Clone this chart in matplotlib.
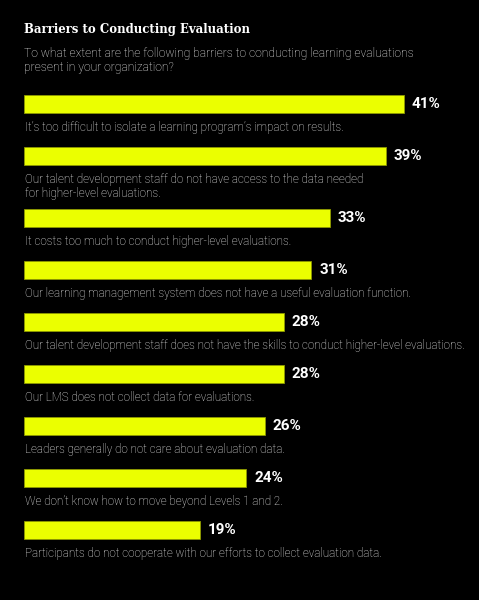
import matplotlib
matplotlib.use("Agg")
import matplotlib.pyplot as plt

# Daten
titel = "Barriers to Conducting Evaluation"
untertitel = ("To what extent are the following barriers to conducting learning evaluations\n"
              "present in your organization?")
barrieren = [
    "It\u2019s too difficult to isolate a learning program\u2019s impact on results.",
    "Our talent development staff do not have access to the data needed\nfor higher-level evaluations.",
    "It costs too much to conduct higher-level evaluations.",
    "Our learning management system does not have a useful evaluation function.",
    "Our talent development staff does not have the skills to conduct higher-level evaluations.",
    "Our LMS does not collect data for evaluations.",
    "Leaders generally do not care about evaluation data.",
    "We don\u2019t know how to move beyond Levels 1 and 2.",
    "Participants do not cooperate with our efforts to collect evaluation data.",
]
prozent = [41, 39, 33, 31, 28, 28, 26, 24, 19]

GELB = "#ebff00"
BG = "black"

fig = plt.figure(figsize=(4.79, 6), dpi=100, facecolor=BG)
# x: 0 % liegt bei 24 px, ca. 9.27 px pro Prozentpunkt; y in Pixeln von oben
ax = fig.add_axes([24 / 479, 0, 45 * 9.27 / 479, 1])
ax.set_facecolor(BG)
ax.set_xlim(0, 45)
ax.set_ylim(600, 0)
ax.axis("off")

# y-Positionen: 52 px Abstand, 10 px extra nach jeder zweizeiligen Beschriftung
ypos = []
y = 104
for lab in barrieren:
    ypos.append(y)
    y += 52 + 10 * lab.count("\n")

ax.barh(ypos, prozent, height=18, left=0, color=GELB, edgecolor="#8f9a00", linewidth=0.6)

for yy, p, lab in zip(ypos, prozent, barrieren):
    ax.text(p + 0.85, yy, f"{p}%", color="white", fontsize=11, fontweight="bold",
            family="Roboto", va="center", ha="left")
    ax.text(0.1, yy + 17, lab, color="#f5f5f5", fontsize=8.4, fontweight="light",
            family="Roboto", va="top", ha="left", linespacing=1.15)

ax.text(0, 29, titel, color="white", fontsize=9.4, fontweight="bold",
        family="DejaVu Serif", fontstretch="condensed", va="center", ha="left")
ax.text(0, 46.5, untertitel, color="#f5f5f5", fontsize=8.7, fontweight="light",
        family="Roboto", va="top", ha="left", linespacing=1.2)

fig.savefig("out.png", dpi=100, facecolor=BG)
plt.close("all")
